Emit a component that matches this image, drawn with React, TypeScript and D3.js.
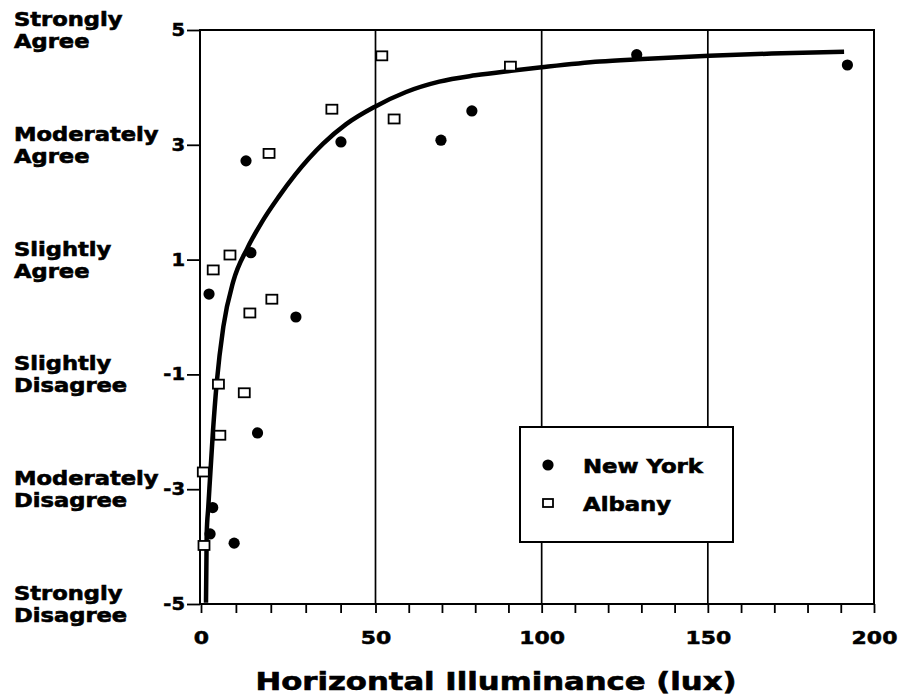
import React, { useEffect, useRef } from "react";
import * as d3 from "d3";

// axis values
const yTickValues = [5, 3, 1, -1, -3, -5];
const yTickNames = [
  ["Strongly", "Agree"],
  ["Moderately", "Agree"],
  ["Slightly", "Agree"],
  ["Slightly", "Disagree"],
  ["Moderately", "Disagree"],
  ["Strongly", "Disagree"],
];
const xLabelValues = [0, 50, 100, 150, 200];
const xMinorTicks = [0, 10, 20, 30, 40, 50, 60, 70, 80, 90, 100, 110, 120, 130, 140, 150, 160, 170, 180, 190, 200];
const xGridValues = [50, 100, 150];
const xTitle = "Horizontal Illuminance (lux)";

// New York (filled circles)
const nyLux = [12.9, 40.1, 69.7, 79.0, 128.6, 192, 14.3, 2.3, 27.2, 16.2, 3.35, 2.6, 9.5];
const nyRating = [2.72, 3.05, 3.08, 3.59, 4.57, 4.39, 1.12, 0.4, 0.0, -2.02, -3.32, -3.78, -3.94];

// Albany (open squares)
const albanyLux = [19.5, 37.5, 51.9, 55.6, 90.6, 8.3, 3.5, 20.3, 14.0, 5.0, 12.4, 5.4, 0.66, 0.86];
const albanyRating = [2.85, 3.62, 4.55, 3.45, 4.37, 1.08, 0.82, 0.31, 0.07, -1.17, -1.32, -2.06, -2.7, -3.98];

// fitted curve
const fitLux = [1.43, 1.63, 2.09, 3.35, 4.5, 6.4, 9.25, 13.3, 17.4, 22.1, 27, 35, 41.6, 49.7, 59.2, 69.2, 80, 90.8, 100, 117.5, 128.9, 150.4, 169.2, 191];
const fitRating = [-4.98, -3.78, -3.31, -2.06, -1.15, -0.17, 0.62, 1.2, 1.65, 2.08, 2.48, 3.02, 3.36, 3.66, 3.92, 4.1, 4.21, 4.29, 4.35, 4.45, 4.49, 4.55, 4.59, 4.62];

const seriesNames = ["New York", "Albany"];

const W = 903;
const H = 698;
const FONT = "'DejaVu Sans', 'Liberation Sans', sans-serif";

export default function App() {
  const svgRef = useRef<SVGSVGElement>(null);

  useEffect(() => {
    const svg = d3.select(svgRef.current);
    svg.selectAll("*").remove();

    // scan is slightly uneven between 0 and 50, so piecewise linear
    const x = d3.scaleLinear().domain([0, 50, 200]).range([201, 375.5, 874]);
    const y = d3.scaleLinear().domain([-5, 5]).range([604, 30]);

    svg.append("rect").attr("width", W).attr("height", H).attr("fill", "#fff");

    // vertical grid lines
    svg.append("g")
      .selectAll("line")
      .data(xGridValues)
      .join("line")
      .attr("x1", (d) => x(d))
      .attr("x2", (d) => x(d))
      .attr("y1", y(5))
      .attr("y2", y(-5))
      .attr("stroke", "#000")
      .attr("stroke-width", 1.7);

    // frame
    svg.append("rect")
      .attr("x", x(0) - 1)
      .attr("y", y(5))
      .attr("width", x(200) - x(0) + 1)
      .attr("height", y(-5) - y(5))
      .attr("fill", "none")
      .attr("stroke", "#000")
      .attr("stroke-width", 2);

    // bottom axis
    const gx = svg.append("g")
      .attr("transform", `translate(0,${y(-5)})`)
      .call(
        d3.axisBottom(x)
          .tickValues(xMinorTicks)
          .tickSize(9)
          .tickFormat((d) => (xLabelValues.includes(+d) ? String(d) : ""))
      );
    gx.select(".domain").remove();
    gx.selectAll("line").attr("stroke", "#000").attr("stroke-width", 1.8);
    gx.selectAll("text")
      .attr("y", 40)
      .attr("dy", 0)
      .attr("transform", "scale(1.22,1)")
      .attr("fill", "#000")
      .attr("stroke", "#000")
      .attr("stroke-width", 0.5)
      .style("font-family", FONT)
      .style("font-weight", "bold")
      .style("font-size", "18px");

    // left axis (plain hyphen for negatives, as in the figure)
    const gy = svg.append("g")
      .attr("transform", `translate(${x(0) - 1},0)`)
      .call(d3.axisLeft(y).tickValues(yTickValues).tickSize(13).tickFormat((d) => String(d)));
    gy.select(".domain").remove();
    gy.selectAll("line").attr("stroke", "#000").attr("stroke-width", 1.8);
    gy.selectAll("text")
      .attr("x", -15 / 1.15)
      .attr("transform", "scale(1.15,1)")
      .attr("fill", "#000")
      .attr("stroke", "#000")
      .attr("stroke-width", 0.5)
      .style("font-family", FONT)
      .style("font-weight", "bold")
      .style("font-size", "17px");

    // verbal scale labels
    const names = svg.append("g")
      .selectAll("text")
      .data(yTickValues)
      .join("text")
      .attr("transform", (d) => `translate(14,${y(d)}) scale(1.19,1)`)
      .attr("fill", "#000")
      .attr("stroke", "#000")
      .attr("stroke-width", 0.6)
      .style("font-family", FONT)
      .style("font-weight", "bold")
      .style("font-size", "19px");
    names.each(function (d, i) {
      const t = d3.select(this);
      t.append("tspan").attr("x", 0).attr("y", -4).text(yTickNames[i][0]);
      t.append("tspan").attr("x", 0).attr("y", 18).text(yTickNames[i][1]);
    });

    // x axis title
    svg.append("text")
      .attr("transform", `translate(${(255 + 737) / 2},690) scale(1.28,1)`)
      .attr("text-anchor", "middle")
      .attr("fill", "#000")
      .attr("stroke", "#000")
      .attr("stroke-width", 0.6)
      .style("font-family", FONT)
      .style("font-weight", "bold")
      .style("font-size", "24px")
      .text(xTitle);

    // fitted curve
    const fit = fitLux.map((v, i) => [v, fitRating[i]] as [number, number]);
    const line = d3.line<[number, number]>()
      .x((d) => x(d[0]))
      .y((d) => y(d[1]))
      .curve(d3.curveMonotoneX);
    svg.append("path")
      .attr("d", line(fit))
      .attr("fill", "none")
      .attr("stroke", "#000")
      .attr("stroke-width", 4.5);

    // New York points
    svg.append("g")
      .selectAll("circle")
      .data(nyLux.map((v, i) => [v, nyRating[i]]))
      .join("circle")
      .attr("cx", (d) => x(d[0]))
      .attr("cy", (d) => y(d[1]))
      .attr("r", 5.6)
      .attr("fill", "#000");

    // Albany points
    svg.append("g")
      .selectAll("rect")
      .data(albanyLux.map((v, i) => [v, albanyRating[i]]))
      .join("rect")
      .attr("x", (d) => x(d[0]) - 5.5)
      .attr("y", (d) => y(d[1]) - 4.5)
      .attr("width", 11)
      .attr("height", 9)
      .attr("fill", "#fff")
      .attr("stroke", "#000")
      .attr("stroke-width", 1.8);

    // legend
    const lg = svg.append("g").attr("transform", "translate(520,427)");
    lg.append("rect")
      .attr("width", 213)
      .attr("height", 115)
      .attr("fill", "#fff")
      .attr("stroke", "#000")
      .attr("stroke-width", 2);
    lg.append("circle").attr("cx", 28).attr("cy", 38).attr("r", 5.6).attr("fill", "#000");
    lg.append("rect")
      .attr("x", 23)
      .attr("y", 72)
      .attr("width", 10)
      .attr("height", 8)
      .attr("fill", "#fff")
      .attr("stroke", "#000")
      .attr("stroke-width", 1.8);
    lg.selectAll("text.lab")
      .data(seriesNames)
      .join("text")
      .attr("class", "lab")
      .attr("transform", (d, i) => `translate(63,${i === 0 ? 45.5 : 84}) scale(1.2,1)`)
      .attr("fill", "#000")
      .attr("stroke", "#000")
      .attr("stroke-width", 0.6)
      .style("font-family", FONT)
      .style("font-weight", "bold")
      .style("font-size", "19px")
      .text((d) => d);
  }, []);

  return (
    <svg
      ref={svgRef}
      width={W}
      height={H}
      style={{ position: "absolute", left: 0, top: 0, display: "block" }}
    />
  );
}
